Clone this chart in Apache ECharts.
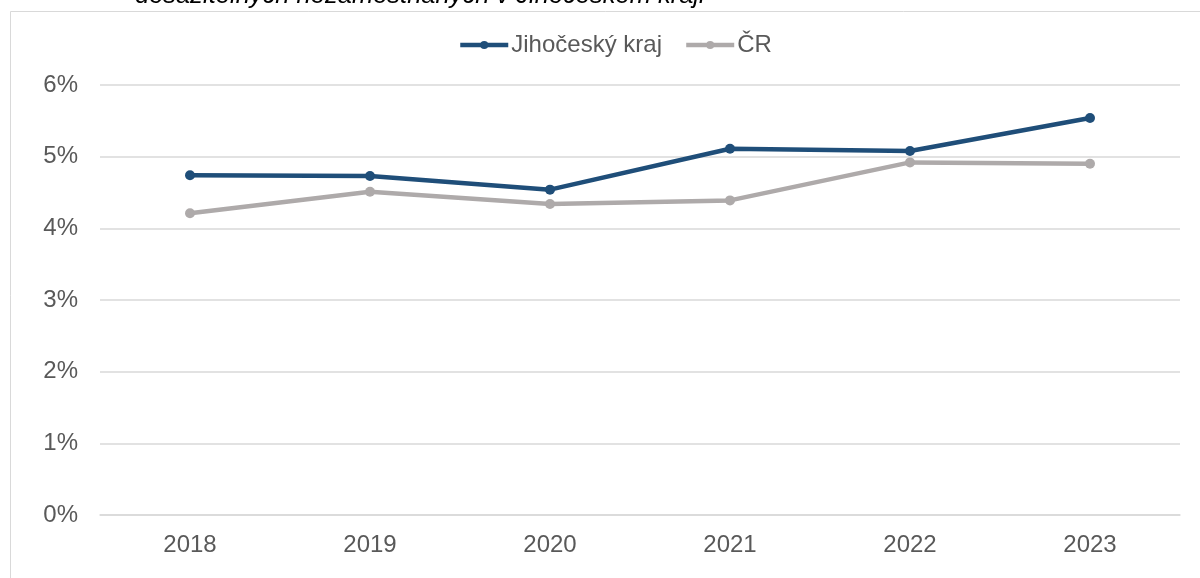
<!DOCTYPE html>
<html><head><meta charset="utf-8">
<script src="https://cdn.jsdelivr.net/npm/echarts@6/dist/echarts.min.js"></script>
<style>html,body{margin:0;padding:0;background:#fff}#c{width:1200px;height:578px}</style>
</head><body><div id="c"></div>
<script>
const categories = ['2018','2019','2020','2021','2022','2023'];
const jihocesky = [4.74, 4.73, 4.54, 5.11, 5.08, 5.54];
const cr = [4.21, 4.51, 4.34, 4.39, 4.92, 4.90];
const yTicks = [0,1,2,3,4,5,6];
const titleText = 'dosažitelných nezaměstnaných v Jihočeském kraji';

const chart = echarts.init(document.getElementById('c'), null, {renderer:'canvas'});
const font = 'Liberation Sans, Arial, sans-serif';
chart.setOption({
  animation:false,
  backgroundColor:'#fff',
  textStyle:{fontFamily:font},
  graphic:[
    {type:'rect', shape:{x:10.5,y:11.5,width:1400,height:800}, style:{fill:'none',stroke:'#D9D9D9',lineWidth:1}},
    {type:'text', x:135, y:9, style:{text:titleText, font:'italic 25.5px '+font, fill:'#000', verticalAlign:'bottom'}}
  ],
  legend:{
    top:28, left:453, itemWidth:48, itemHeight:10, itemGap:22,
    lineStyle:{width:4.5},
    textStyle:{fontSize:24, color:'#595959', fontFamily:font, padding:[0,0,0,-2]}
  },
  grid:{left:100, right:20, top:85, bottom:63, containLabel:false},
  xAxis:{
    type:'category', data:categories, boundaryGap:true,
    axisLine:{show:true, lineStyle:{color:'#D9D9D9', width:1.5}},
    axisTick:{show:false},
    axisLabel:{fontSize:24, color:'#595959', margin:18, fontFamily:font}
  },
  yAxis:{
    type:'value', min:yTicks[0], max:yTicks[yTicks.length-1], interval:1,
    axisLine:{show:false}, axisTick:{show:false},
    splitLine:{lineStyle:{color:'#D9D9D9', width:1.5}},
    axisLabel:{fontSize:24, color:'#595959', margin:22, formatter:v=>v+'%', fontFamily:font}
  },
  series:[
    {name:'Jihočeský kraj', type:'line', data:jihocesky, symbol:'circle', symbolSize:10,
     lineStyle:{color:'#1F4E79', width:4.5}, itemStyle:{color:'#1F4E79'}},
    {name:'ČR', type:'line', data:cr, symbol:'circle', symbolSize:10,
     lineStyle:{color:'#AEAAAA', width:4.5}, itemStyle:{color:'#AEAAAA'}}
  ]
});
</script></body></html>
